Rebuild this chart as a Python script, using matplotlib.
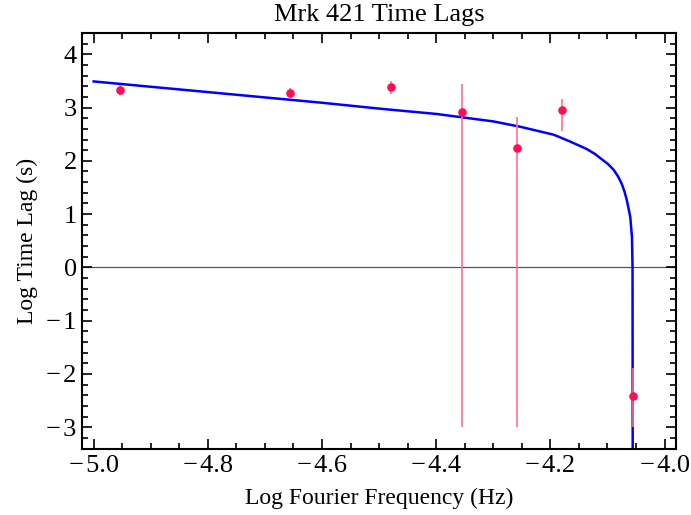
"""Mrk 421 time lags vs Fourier frequency, with the model curve."""

import matplotlib
matplotlib.use("Agg")
import matplotlib.pyplot as plt
from matplotlib.ticker import MultipleLocator

plt.rcParams["font.family"] = ["Liberation Serif", "DejaVu Serif"]

# measured lags
log_freq = [-4.954, -4.656, -4.479, -4.354, -4.258, -4.179, -4.055]
log_lag = [3.33, 3.27, 3.38, 2.92, 2.24, 2.95, -2.41]
lag_hi = [3.43, 3.37, 3.50, 3.44, 2.82, 3.16, -1.89]
lag_lo = [3.23, 3.17, 3.26, -3.00, -3.00, 2.56, -3.00]

# model curve
curve_x = [-5.000, -4.90, -4.80, -4.70, -4.60, -4.50, -4.40, -4.30,
           -4.253, -4.194, -4.165, -4.136, -4.122, -4.110, -4.099, -4.089,
           -4.081, -4.075, -4.070, -4.066, -4.060, -4.057, -4.056, -4.0557]
curve_y = [3.49, 3.39, 3.29, 3.19, 3.09, 2.98, 2.88, 2.74,
           2.64, 2.49, 2.36, 2.22, 2.13, 2.03, 1.94, 1.83,
           1.70, 1.57, 1.42, 1.26, 0.95, 0.57, 0.01, -3.60]

point_color = "#ff0f4f"
bar_color = "#ff6f90"


def fmt(v, digits):
    s = f"{abs(v):.{digits}f}"
    return "\u2212\u200a" + s if v < 0 else s


fig, ax = plt.subplots(figsize=(6.91, 5.15), dpi=100)
fig.subplots_adjust(left=0.119, right=0.979, top=0.935, bottom=0.128)

ax.axhline(0, color="#555555", linewidth=0.9, zorder=1)
ax.plot(curve_x, curve_y, color="#0000ff", linewidth=1.8, zorder=2)
ax.vlines(log_freq, lag_lo, lag_hi, color=bar_color, linewidth=1.2, zorder=3)
ax.plot(log_freq, log_lag, "o", color=point_color, markersize=6.2,
        markeredgewidth=0, zorder=4)

ax.set_xlim(-5.02, -3.979)
ax.set_ylim(-3.41, 4.39)
ax.xaxis.set_major_locator(MultipleLocator(0.2))
ax.xaxis.set_minor_locator(MultipleLocator(0.05))
ax.yaxis.set_major_locator(MultipleLocator(1))
ax.yaxis.set_minor_locator(MultipleLocator(0.2))
ax.xaxis.set_major_formatter(plt.FuncFormatter(lambda v, p: fmt(v, 1)))
ax.yaxis.set_major_formatter(plt.FuncFormatter(lambda v, p: fmt(v, 0)))

ax.tick_params(which="both", direction="in", top=True, right=True,
               width=1.2, labelsize=19, pad=4)
ax.tick_params(which="major", length=7)
ax.tick_params(which="minor", length=4)
for s in ax.spines.values():
    s.set_linewidth(1.5)

ax.set_title("Mrk 421 Time Lags", fontsize=19, pad=9)
ax.set_xlabel("Log Fourier Frequency (Hz)", fontsize=17, labelpad=8)
ax.set_ylabel("Log Time Lag (s)", fontsize=17, labelpad=6)

plt.savefig("out.png", dpi=100)
